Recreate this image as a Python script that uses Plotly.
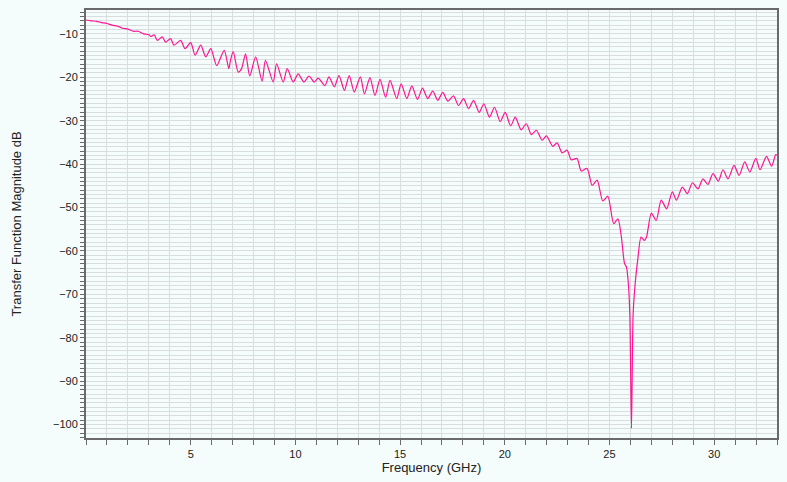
"""
plot.py – Modulo della funzione di trasferimento in dB vs frequenza.

Valori letti a mano dal grafico di riferimento (picchi e valli del ripple).
"""

import plotly.graph_objects as go

# ──────────────────────────────────────────────
# Dati
# ──────────────────────────────────────────────
FREQ_GHZ = [
    0.00, 0.25, 0.50, 0.75, 1.00, 1.25, 1.50, 1.75, 2.00, 2.25, 2.50, 2.75,
    3.00, 3.10, 3.25, 3.41, 3.64, 3.80, 4.04, 4.20, 4.52, 4.73, 5.00, 5.21,
    5.48, 5.72, 5.96, 6.24, 6.60, 6.82, 6.90, 7.03, 7.27, 7.43, 7.62, 7.82,
    8.10, 8.41, 8.57, 8.94, 9.10, 9.42, 9.61, 9.90, 10.13, 10.41, 10.65, 10.90,
    11.09, 11.41, 11.60, 11.86, 12.08, 12.34, 12.57, 12.81, 13.10, 13.30, 13.56, 13.80,
    14.04, 14.31, 14.52, 14.84, 15.05, 15.32, 15.56, 15.83, 16.07, 16.32, 16.56, 16.80,
    17.04, 17.28, 17.55, 17.79, 18.03, 18.27, 18.51, 18.78, 19.00, 19.27, 19.51, 19.78,
    20.02, 20.28, 20.50, 20.78, 21.03, 21.27, 21.51, 21.78, 21.99, 22.29, 22.50, 22.74,
    22.98, 23.17, 23.45, 23.65, 23.93, 24.17, 24.41, 24.68, 24.92, 25.20, 25.40, 25.56,
    25.72, 25.81, 25.89, 25.97, 26.05, 26.13, 26.24, 26.35, 26.51, 26.67, 26.77, 27.00,
    27.23, 27.47, 27.73, 28.00, 28.20, 28.48, 28.72, 28.96, 29.23, 29.46, 29.70, 29.94,
    30.20, 30.42, 30.66, 30.95, 31.19, 31.46, 31.70, 31.99, 32.19, 32.50, 32.74, 32.94,
    33.00,
]

MAG_DB = [
    -6.8, -7.0, -7.1, -7.4, -7.6, -8.0, -8.2, -8.7, -8.9, -9.4, -9.4, -10.0,
    -10.2, -10.6, -10.2, -11.5, -10.7, -11.9, -11.1, -12.6, -11.5, -13.4, -12.0, -14.9,
    -12.6, -15.3, -13.4, -17.3, -13.8, -18.0, -16.1, -14.1, -18.8, -18.0, -14.6, -19.7,
    -15.3, -20.9, -16.1, -21.1, -16.9, -21.1, -18.0, -21.1, -19.2, -21.1, -19.7, -21.1,
    -20.2, -21.9, -19.9, -22.2, -19.6, -23.0, -19.6, -23.4, -19.9, -23.8, -20.1, -24.2,
    -20.5, -24.6, -20.7, -24.9, -21.5, -24.9, -22.0, -25.1, -22.5, -24.9, -23.2, -25.3,
    -23.5, -25.5, -24.3, -26.5, -24.9, -27.2, -25.3, -28.1, -26.1, -29.2, -26.9, -30.2,
    -28.1, -31.2, -29.2, -32.1, -30.7, -33.2, -32.2, -34.5, -33.5, -35.9, -35.1, -37.4,
    -36.8, -39.0, -38.7, -41.6, -41.0, -44.9, -43.7, -48.5, -47.4, -53.7, -52.6, -56.5,
    -62.9, -63.7, -66.8, -74.4, -100.9, -74.4, -66.8, -62.0, -56.8, -57.6, -56.8, -51.3,
    -53.0, -48.3, -50.3, -46.4, -48.3, -45.3, -46.8, -44.3, -45.7, -43.4, -44.7, -42.2,
    -43.9, -41.3, -43.4, -40.3, -42.6, -39.5, -41.8, -38.7, -41.3, -38.2, -40.5, -37.8,
    -38.0,
]

X_TICKS = [5, 10, 15, 20, 25, 30]
Y_TICKS = [-10, -20, -30, -40, -50, -60, -70, -80, -90, -100]

X_RANGE = [0, 33]
Y_RANGE = [-103.1, -4.5]

# ──────────────────────────────────────────────
# Stile
# ──────────────────────────────────────────────
BG = "#F4FCFC"
GRID = "#D9DDDD"
AXIS = "#6A6A6A"
LINE = "#FF1493"
FONT = dict(family="Liberation Sans, Arial, sans-serif", size=11, color="#222222")

fig = go.Figure()

fig.add_trace(go.Scatter(
    x=FREQ_GHZ,
    y=MAG_DB,
    mode="lines",
    line=dict(color=LINE, width=1.2, shape="spline", smoothing=0.7),
    showlegend=False,
))

# la pagina ha 8 px di margine sul body: figura un po' più piccola della finestra
fig.update_layout(
    width=779,
    height=474,
    margin=dict(l=78, r=10, t=2, b=44),
    paper_bgcolor=BG,
    plot_bgcolor=BG,
    font=FONT,
    xaxis=dict(
        range=X_RANGE,
        tickvals=X_TICKS,
        showgrid=True,
        gridcolor=GRID,
        gridwidth=1,
        minor=dict(dtick=1, tick0=0, showgrid=True, gridcolor=GRID, ticks="outside",
                   ticklen=5, tickcolor=AXIS),
        ticks="outside",
        ticklen=5,
        tickcolor=AXIS,
        showline=True,
        linecolor=AXIS,
        linewidth=2,
        mirror=True,
        zeroline=False,
        automargin=False,
        title=dict(text="Frequency (GHz)", standoff=0),
    ),
    yaxis=dict(
        range=Y_RANGE,
        tickvals=Y_TICKS,
        showgrid=True,
        gridcolor=GRID,
        gridwidth=1,
        minor=dict(dtick=1, tick0=0, showgrid=True, gridcolor=GRID, ticks="outside",
                   ticklen=4, tickcolor=AXIS),
        ticks="outside",
        ticklen=4,
        tickcolor=AXIS,
        showline=True,
        linecolor=AXIS,
        linewidth=2,
        mirror=True,
        zeroline=False,
        automargin=False,
        title=dict(text="Transfer Function Magnitude dB", standoff=28),
    ),
)

# stesso sfondo anche per il margine della pagina
fig.write_html("out.html", post_script=f"document.body.style.background='{BG}';")
